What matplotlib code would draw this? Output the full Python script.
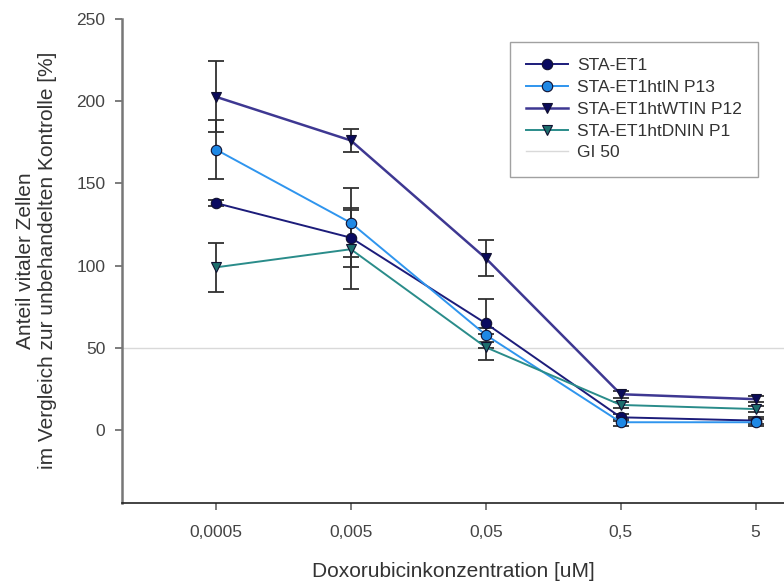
import numpy as np
import matplotlib
matplotlib.use('Agg')
import matplotlib.pyplot as plt

plt.rcParams['font.family'] = ['Liberation Sans', 'DejaVu Sans']

# Doxorubicin concentrations (categorical axis)
concentrations = ['0,0005', '0,005', '0,05', '0,5', '5']

et1 = [138, 117, 65, 8, 6]
et1_err = [2, 18, 15, 2, 2]

htin = [170.5, 126, 58, 5, 5]
htin_err = [18, 21, 4, 2, 2]

wtin = [202.5, 176, 104.5, 22, 19]
wtin_err = [21.5, 7, 11, 2, 2]

dnin = [99, 110, 50.5, 15.5, 13]
dnin_err = [15, 24, 8, 2, 2]

gi50 = 50

series = [
    ('STA-ET1', et1, et1_err, '#1c1c7a', '#0a0a60', 'o', 1.4),
    ('STA-ET1htIN P13', htin, htin_err, '#2f95ee', '#1e88e5', 'o', 1.4),
    ('STA-ET1htWTIN P12', wtin, wtin_err, '#3e3892', '#0a0a5a', 'v', 1.8),
    ('STA-ET1htDNIN P1', dnin, dnin_err, '#2a8c8a', '#1d6f6e', 'v', 1.4),
]

fig = plt.figure(figsize=(7.84, 5.84), dpi=100)
ax = fig.add_axes([0.1556, 0.1387, 0.8444, 0.8296])

x = np.arange(len(concentrations))

ax.axhline(gi50, color='#d9d9d9', lw=1.0, zorder=1, label='GI 50')

handles = []
for name, vals, errs, lc, fc, mk, lw in series:
    ax.errorbar(x, vals, yerr=errs, fmt='none', ecolor='#303030', elinewidth=1.3,
                capsize=6, capthick=1.3, zorder=2)
    h, = ax.plot(x, vals, color=lc, lw=lw, marker=mk, markersize=7.5,
                 markerfacecolor=fc, markeredgecolor='#101030', markeredgewidth=0.8,
                 label=name, zorder=3)
    handles.append(h)

gi_handle = ax.lines[0]
leg = ax.legend(handles + [gi_handle], [s[0] for s in series] + ['GI 50'],
                loc='upper left', bbox_to_anchor=(0.586, 0.952), fontsize=12.5,
                frameon=True, fancybox=False, handlelength=2.4, borderpad=0.95,
                labelspacing=0.38, handletextpad=0.5, borderaxespad=0)
leg.get_frame().set_edgecolor('#8a8a8a')
leg.get_frame().set_linewidth(1.0)
for t in leg.get_texts():
    t.set_color('#333333')

ax.set_xlim(-0.696, 4.21)
ax.set_ylim(-44, 250)
ax.set_xticks(x)
ax.set_xticklabels(concentrations)
ax.set_yticks([0, 50, 100, 150, 200, 250])

ax.spines['top'].set_visible(False)
ax.spines['right'].set_visible(False)
ax.spines['left'].set_color('#777777')
ax.spines['left'].set_linewidth(1.8)
ax.spines['bottom'].set_color('#222222')
ax.spines['bottom'].set_linewidth(1.2)

ax.tick_params(axis='both', direction='out', length=5, width=1.2, colors='#666666',
               labelsize=12.5, labelcolor='#444444')
ax.tick_params(axis='x', pad=11)
ax.tick_params(axis='y', pad=7)

ax.set_xlabel('Doxorubicinkonzentration [uM]', fontsize=15, color='#333333', labelpad=16)
ax.set_ylabel('Anteil vitaler Zellen\nim Vergleich zur unbehandelten Kontrolle [%]',
              fontsize=15, color='#333333', labelpad=14, linespacing=1.2)

fig.savefig('out.png', dpi=100)
